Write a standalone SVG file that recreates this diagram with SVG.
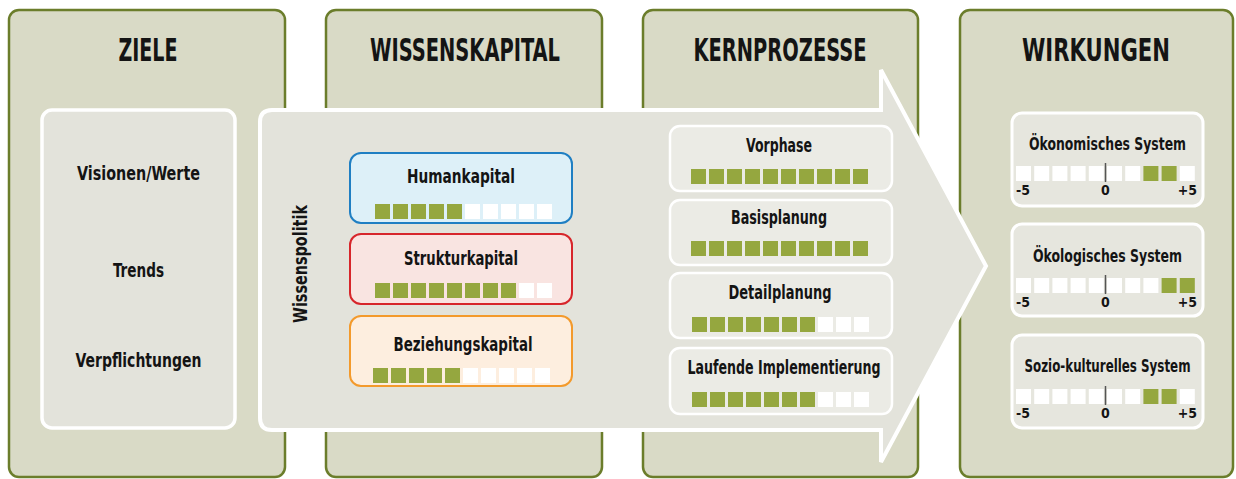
<svg xmlns="http://www.w3.org/2000/svg" xmlns:xlink="http://www.w3.org/1999/xlink" width="1236" height="479" viewBox="0 0 1236 479">
<style>
text{font-family:"Liberation Sans Narrow","DejaVu Sans Condensed","Liberation Sans",sans-serif;font-weight:bold;fill:#141414;text-anchor:middle}
.panel{fill:#d9dac6;stroke:#6b7d2b;stroke-width:2.5}
.title{font-size:32px}
.lbl{font-size:20px}
.wl{font-size:18px}
.sc{font-size:14px}
.inner{fill:#e3e3db;stroke:#fff;stroke-width:3.5}
.proc{fill:#ebebe5;stroke:#fff;stroke-width:2.5}
.wbox{fill:#e6e6de;stroke:#fff;stroke-width:3}
</style>
<defs>
<rect id="g" width="15" height="15" fill="#95a73f"/>
<rect id="w" width="15" height="15" fill="#ffffff"/>
</defs>
<rect width="1236" height="479" fill="#fff"/>
<g id="panel-ziele">
<rect class="panel" x="9" y="10" width="276" height="467" rx="10"/>
<text class="title" x="148" y="61" textLength="59" lengthAdjust="spacingAndGlyphs">ZIELE</text>
</g>
<g id="panel-wissenskapital">
<rect class="panel" x="326" y="10" width="276" height="467" rx="10"/>
<text class="title" x="465" y="61" textLength="190" lengthAdjust="spacingAndGlyphs">WISSENSKAPITAL</text>
</g>
<g id="panel-kernprozesse">
<rect class="panel" x="643" y="10" width="275" height="467" rx="10"/>
<text class="title" x="780" y="61" textLength="173" lengthAdjust="spacingAndGlyphs">KERNPROZESSE</text>
</g>
<g id="panel-wirkungen">
<rect class="panel" x="960" y="10" width="273" height="467" rx="10"/>
<text class="title" x="1096" y="61" textLength="148" lengthAdjust="spacingAndGlyphs">WIRKUNGEN</text>
</g>
<g id="ziele-box">
<rect class="inner" x="42" y="110" width="193" height="318" rx="10"/>
<text class="lbl" x="138.5" y="180" textLength="123" lengthAdjust="spacingAndGlyphs">Visionen/Werte</text>
<text class="lbl" x="138.5" y="277" textLength="51" lengthAdjust="spacingAndGlyphs">Trends</text>
<text class="lbl" x="138.5" y="367" textLength="126" lengthAdjust="spacingAndGlyphs">Verpflichtungen</text>
</g>
<g id="connectors">
<path id="big-arrow" d="M272,110 L881,110 L881,70 L986,266 L881,462 L881,430 L272,430 Q260,430 260,418 L260,122 Q260,110 272,110 Z" fill="#e3e3db" stroke="#fff" stroke-width="4" stroke-linejoin="miter"/>
</g>
<g id="wissenspolitik">
<text class="lbl" transform="translate(307,264) rotate(-90)" textLength="118" lengthAdjust="spacingAndGlyphs">Wissenspolitik</text>
</g>
<g id="humankapital">
<rect x="350" y="153" width="222" height="70" rx="11" fill="#ddf0f8" stroke="#1f7fc3" stroke-width="2"/>
<text class="lbl" x="461" y="183" textLength="108" lengthAdjust="spacingAndGlyphs">Humankapital</text>
<use xlink:href="#g" x="375" y="204"/><use xlink:href="#g" x="393" y="204"/><use xlink:href="#g" x="411" y="204"/><use xlink:href="#g" x="429" y="204"/><use xlink:href="#g" x="447" y="204"/>
<use xlink:href="#w" x="465" y="204"/><use xlink:href="#w" x="483" y="204"/><use xlink:href="#w" x="501" y="204"/><use xlink:href="#w" x="519" y="204"/><use xlink:href="#w" x="537" y="204"/>
</g>
<g id="strukturkapital">
<rect x="350" y="234" width="222" height="70" rx="11" fill="#f9e4e1" stroke="#d7262b" stroke-width="2"/>
<text class="lbl" x="461" y="265" textLength="114" lengthAdjust="spacingAndGlyphs">Strukturkapital</text>
<use xlink:href="#g" x="375" y="283"/><use xlink:href="#g" x="393" y="283"/><use xlink:href="#g" x="411" y="283"/><use xlink:href="#g" x="429" y="283"/><use xlink:href="#g" x="447" y="283"/>
<use xlink:href="#g" x="465" y="283"/><use xlink:href="#g" x="483" y="283"/><use xlink:href="#g" x="501" y="283"/><use xlink:href="#w" x="519" y="283"/><use xlink:href="#w" x="537" y="283"/>
</g>
<g id="beziehungskapital">
<rect x="350" y="316" width="222" height="70" rx="11" fill="#fdeedf" stroke="#f39a2c" stroke-width="2"/>
<text class="lbl" x="463" y="351" textLength="139" lengthAdjust="spacingAndGlyphs">Beziehungskapital</text>
<use xlink:href="#g" x="373" y="368"/><use xlink:href="#g" x="391" y="368"/><use xlink:href="#g" x="409" y="368"/><use xlink:href="#g" x="427" y="368"/><use xlink:href="#g" x="445" y="368"/>
<use xlink:href="#w" x="463" y="368"/><use xlink:href="#w" x="481" y="368"/><use xlink:href="#w" x="499" y="368"/><use xlink:href="#w" x="517" y="368"/><use xlink:href="#w" x="535" y="368"/>
</g>
<g id="vorphase">
<rect class="proc" x="670" y="126" width="222" height="65" rx="10"/>
<text class="lbl" x="779" y="152" textLength="66" lengthAdjust="spacingAndGlyphs">Vorphase</text>
<use xlink:href="#g" x="691" y="169"/><use xlink:href="#g" x="709" y="169"/><use xlink:href="#g" x="727" y="169"/><use xlink:href="#g" x="745" y="169"/><use xlink:href="#g" x="763" y="169"/>
<use xlink:href="#g" x="781" y="169"/><use xlink:href="#g" x="799" y="169"/><use xlink:href="#g" x="817" y="169"/><use xlink:href="#g" x="835" y="169"/><use xlink:href="#g" x="853" y="169"/>
</g>
<g id="basisplanung">
<rect class="proc" x="670" y="200" width="222" height="65" rx="10"/>
<text class="lbl" x="779" y="224" textLength="96" lengthAdjust="spacingAndGlyphs">Basisplanung</text>
<use xlink:href="#g" x="691" y="241"/><use xlink:href="#g" x="709" y="241"/><use xlink:href="#g" x="727" y="241"/><use xlink:href="#g" x="745" y="241"/><use xlink:href="#g" x="763" y="241"/>
<use xlink:href="#g" x="781" y="241"/><use xlink:href="#g" x="799" y="241"/><use xlink:href="#g" x="817" y="241"/><use xlink:href="#g" x="835" y="241"/><use xlink:href="#g" x="853" y="241"/>
</g>
<g id="detailplanung">
<rect class="proc" x="670" y="273" width="222" height="65" rx="10"/>
<text class="lbl" x="780" y="299" textLength="103" lengthAdjust="spacingAndGlyphs">Detailplanung</text>
<use xlink:href="#g" x="692" y="317"/><use xlink:href="#g" x="710" y="317"/><use xlink:href="#g" x="728" y="317"/><use xlink:href="#g" x="746" y="317"/><use xlink:href="#g" x="764" y="317"/>
<use xlink:href="#g" x="782" y="317"/><use xlink:href="#g" x="800" y="317"/><use xlink:href="#w" x="818" y="317"/><use xlink:href="#w" x="836" y="317"/><use xlink:href="#w" x="854" y="317"/>
</g>
<g id="laufende-implementierung">
<rect class="proc" x="670" y="348" width="222" height="66" rx="10"/>
<text class="lbl" x="784" y="374" textLength="193" lengthAdjust="spacingAndGlyphs">Laufende Implementierung</text>
<use xlink:href="#g" x="692" y="392"/><use xlink:href="#g" x="710" y="392"/><use xlink:href="#g" x="728" y="392"/><use xlink:href="#g" x="746" y="392"/><use xlink:href="#g" x="764" y="392"/>
<use xlink:href="#g" x="782" y="392"/><use xlink:href="#g" x="800" y="392"/><use xlink:href="#w" x="818" y="392"/><use xlink:href="#w" x="836" y="392"/><use xlink:href="#w" x="854" y="392"/>
</g>
<g id="oekonomisches-system">
<rect class="wbox" x="1012" y="113" width="191" height="93" rx="10"/>
<text class="wl" x="1107.5" y="150" textLength="157" lengthAdjust="spacingAndGlyphs">Ökonomisches System</text>
<use xlink:href="#w" x="1016" y="166"/><use xlink:href="#w" x="1034.2" y="166"/><use xlink:href="#w" x="1052.4" y="166"/><use xlink:href="#w" x="1070.6" y="166"/><use xlink:href="#w" x="1088.8" y="166"/>
<use xlink:href="#w" x="1107" y="166"/><use xlink:href="#w" x="1125.2" y="166"/><use xlink:href="#g" x="1143.4" y="166"/><use xlink:href="#g" x="1161.6" y="166"/><use xlink:href="#w" x="1179.8" y="166"/>
<line x1="1105.5" y1="163" x2="1105.5" y2="182" stroke="#555" stroke-width="1.5"/>
<text class="sc" x="1016" y="195" style="text-anchor:start">-5</text>
<text class="sc" x="1105.5" y="195">0</text>
<text class="sc" x="1197" y="195" style="text-anchor:end">+5</text>
</g>
<g id="oekologisches-system">
<rect class="wbox" x="1012" y="224" width="191" height="92" rx="10"/>
<text class="wl" x="1107.5" y="262" textLength="149" lengthAdjust="spacingAndGlyphs">Ökologisches System</text>
<use xlink:href="#w" x="1016" y="278"/><use xlink:href="#w" x="1034.2" y="278"/><use xlink:href="#w" x="1052.4" y="278"/><use xlink:href="#w" x="1070.6" y="278"/><use xlink:href="#w" x="1088.8" y="278"/>
<use xlink:href="#w" x="1107" y="278"/><use xlink:href="#w" x="1125.2" y="278"/><use xlink:href="#w" x="1143.4" y="278"/><use xlink:href="#g" x="1161.6" y="278"/><use xlink:href="#g" x="1179.8" y="278"/>
<line x1="1105.5" y1="275" x2="1105.5" y2="294" stroke="#555" stroke-width="1.5"/>
<text class="sc" x="1016" y="307" style="text-anchor:start">-5</text>
<text class="sc" x="1105.5" y="307">0</text>
<text class="sc" x="1197" y="307" style="text-anchor:end">+5</text>
</g>
<g id="sozio-kulturelles-system">
<rect class="wbox" x="1012" y="335" width="191" height="93" rx="10"/>
<text class="wl" x="1107.5" y="372" style="font-size:17px" textLength="166" lengthAdjust="spacingAndGlyphs">Sozio-kulturelles System</text>
<use xlink:href="#w" x="1016" y="389"/><use xlink:href="#w" x="1034.2" y="389"/><use xlink:href="#w" x="1052.4" y="389"/><use xlink:href="#w" x="1070.6" y="389"/><use xlink:href="#w" x="1088.8" y="389"/>
<use xlink:href="#w" x="1107" y="389"/><use xlink:href="#w" x="1125.2" y="389"/><use xlink:href="#g" x="1143.4" y="389"/><use xlink:href="#g" x="1161.6" y="389"/><use xlink:href="#w" x="1179.8" y="389"/>
<line x1="1105.5" y1="386" x2="1105.5" y2="405" stroke="#555" stroke-width="1.5"/>
<text class="sc" x="1016" y="418" style="text-anchor:start">-5</text>
<text class="sc" x="1105.5" y="418">0</text>
<text class="sc" x="1197" y="418" style="text-anchor:end">+5</text>
</g>
</svg>
